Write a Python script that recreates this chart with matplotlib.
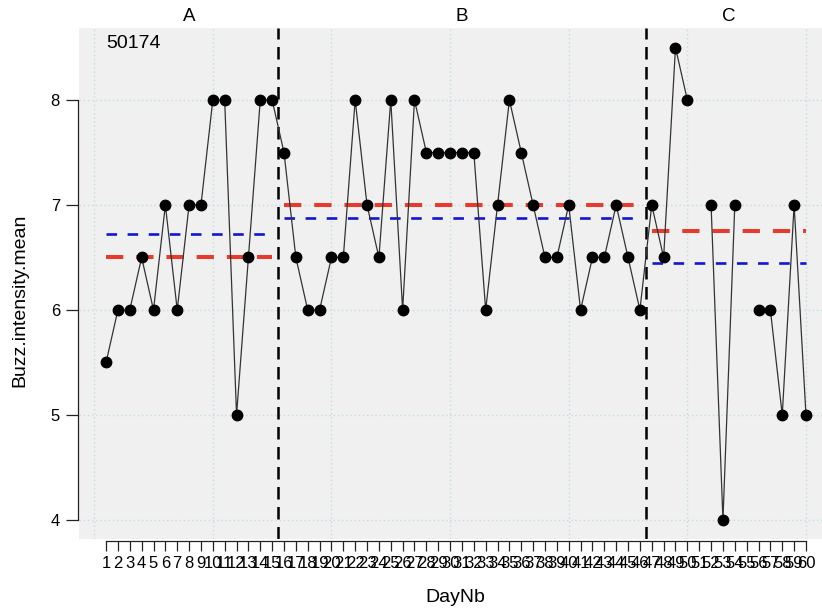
import numpy as np
import matplotlib
matplotlib.use("Agg")
import matplotlib.pyplot as plt
import matplotlib.transforms as mtransforms

plt.rcParams['font.family'] = ['Liberation Sans', 'DejaVu Sans']

# Daily buzz intensity (NaN = no observation)
nan = np.nan
days = list(range(1, 61))
buzz = [5.5, 6, 6, 6.5, 6, 7, 6, 7, 7, 8, 8, 5, 6.5, 8, 8,
        7.5, 6.5, 6, 6, 6.5, 6.5, 8, 7, 6.5, 8, 6, 8, 7.5, 7.5, 7.5, 7.5, 7.5,
        6, 7, 8, 7.5, 7, 6.5, 6.5, 7, 6, 6.5, 6.5, 7, 6.5, 6,
        7, 6.5, 8.5, 8, nan, 7, 4, 7, nan, 6, 6, 5, 7, 5]

# Phases and their summary levels
phases = ["A", "B", "C"]
phase_start = [1, 16, 47]
phase_end = [15, 46, 60]
phase_median = [6.5, 7.0, 6.75]
phase_mean = [6.72, 6.88, 6.45]
subject_id = "50174"

fig = plt.figure(figsize=(8.22, 6.13), dpi=100)
ax = fig.add_axes([79 / 822, 1 - 539.3 / 613, 743 / 822, 511 / 613])
ax.set_facecolor('#f0f0f0')
ax.set_xlim(-1.28, 61.35)
ax.set_ylim(3.816, 8.683)

# grid
for gx in range(0, 61, 10):
    ax.axvline(gx, color='#c0dde3', lw=1.0, ls=(0, (1, 2)), zorder=1)
for gy in range(4, 9):
    ax.axhline(gy, color='#c0dde3', lw=1.0, ls=(0, (1, 2)), zorder=1)

# phase separators
for s in phase_start[1:]:
    ax.axvline(s - 0.5, color='black', lw=1.8, ls=(0, (5, 3)), zorder=2)

# median and mean levels per phase
for a, b, md, mn in zip(phase_start, phase_end, phase_median, phase_mean):
    ax.plot([a, b], [md, md], color='#e63c2e', lw=2.9, ls=(0, (4.3, 3.2)),
            zorder=3, dash_capstyle='butt')
    ax.plot([a, b], [mn, mn], color='#1515cc', lw=1.9, ls=(0, (4, 4)),
            zorder=3, dash_capstyle='butt')

# data series
ax.plot(days, buzz, color='#333333', lw=0.9, zorder=4)
ax.plot(days, buzz, 'o', color='black', ms=7.5, zorder=5)

# axes styling
for sp in ['top', 'right']:
    ax.spines[sp].set_visible(False)
ax.spines['left'].set_bounds(4, 8)
ax.spines['bottom'].set_bounds(1, 60)
ax.spines['left'].set_position(('outward', 1))
ax.spines['bottom'].set_position(('outward', 1))
for sp in ['left', 'bottom']:
    ax.spines[sp].set_color('#222222')
    ax.spines[sp].set_linewidth(0.9)

ax.set_xticks(days)
ax.set_xticklabels([str(d) for d in days])
ax.set_yticks([4, 5, 6, 7, 8])
ax.tick_params(axis='x', length=7.2, width=0.9, pad=3.5, labelsize=12, colors='#222222', labelcolor='black')
ax.tick_params(axis='y', length=8.3, width=0.9, pad=4.4, labelsize=12, colors='#222222', labelcolor='black')

ax.set_xlabel('DayNb', fontsize=14, va='center')
ax.set_ylabel('Buzz.intensity.mean', fontsize=14, va='center')
ax.xaxis.set_label_coords(0.507, -(598 - 539.3) / 511)
ax.yaxis.set_label_coords((20 - 79) / 743, (539.3 - 300) / 511)

# phase labels above the panel
trans = mtransforms.blended_transform_factory(ax.transData, ax.transAxes)
for name, a, b in zip(phases, phase_start, phase_end):
    ax.text((a + b) / 2, 1.024, name, transform=trans, ha='center', va='center',
            fontsize=13.5, clip_on=False)

ax.text(1.0, 0.971, subject_id, transform=trans, ha='left', va='center', fontsize=14)

fig.savefig('out.png', dpi=100)
